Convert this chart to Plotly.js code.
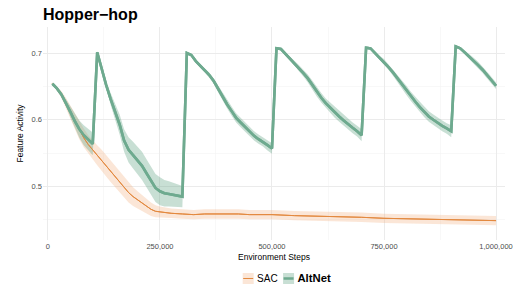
<!DOCTYPE html>
<html>
<head>
<meta charset="utf-8">
<script src="https://cdn.plot.ly/plotly-3.0.1.min.js"></script>
<style>html,body{margin:0;padding:0;background:#fff;}#chart{width:524px;height:288px;}</style>
</head>
<body>
<div id="chart"></div>
<script>
// ---- data ----
var sacX = [10000,20000,30000,40000,50000,60000,70000,80000,90000,100000,110000,120000,130000,140000,150000,160000,170000,180000,190000,200000,210000,220000,230000,240000,250000,275000,300000,325000,350000,375000,400000,425000,450000,475000,500000,550000,600000,650000,700000,750000,800000,850000,900000,950000,1000000];
var sacMean = [0.654,0.647,0.638,0.625,0.611,0.597,0.584,0.573,0.563,0.555,0.547,0.539,0.531,0.523,0.515,0.507,0.499,0.491,0.485,0.480,0.475,0.470,0.466,0.463,0.462,0.460,0.459,0.458,0.459,0.459,0.460,0.459,0.458,0.458,0.458,0.4565,0.456,0.4545,0.454,0.4525,0.452,0.451,0.4505,0.450,0.449];
var sacSpread = [0.002,0.003,0.005,0.008,0.010,0.012,0.013,0.014,0.014,0.014,0.015,0.016,0.016,0.016,0.016,0.016,0.016,0.015,0.014,0.013,0.012,0.011,0.010,0.009,0.008,0.007,0.007,0.007,0.007,0.007,0.007,0.007,0.007,0.007,0.007,0.007,0.007,0.007,0.007,0.007,0.007,0.007,0.007,0.007,0.007];

var altX = [10000,20000,30000,40000,50000,60000,70000,80000,90000,100000,
  110000,120000,130000,140000,150000,160000,170000,180000,190000,200000,210000,220000,230000,240000,250000,260000,270000,280000,290000,300000,
  310000,320000,330000,340000,350000,360000,370000,380000,390000,400000,410000,420000,430000,440000,450000,460000,470000,480000,490000,500000,
  510000,520000,530000,540000,550000,560000,570000,580000,590000,600000,610000,620000,630000,640000,650000,660000,670000,680000,690000,700000,
  710000,720000,730000,740000,750000,760000,770000,780000,790000,800000,810000,820000,830000,840000,850000,860000,870000,880000,890000,900000,
  910000,920000,930000,940000,950000,960000,970000,980000,990000,1000000];
var altMean = [0.654,0.647,0.638,0.626,0.612,0.598,0.586,0.577,0.570,0.564,
  0.701,0.676,0.652,0.631,0.612,0.593,0.569,0.555,0.547,0.539,0.531,0.520,0.508,0.498,0.493,0.490,0.489,0.488,0.486,0.485,
  0.700,0.697,0.688,0.681,0.675,0.667,0.658,0.646,0.634,0.623,0.613,0.603,0.596,0.589,0.582,0.576,0.571,0.567,0.562,0.557,
  0.707,0.706,0.699,0.692,0.685,0.678,0.670,0.662,0.652,0.642,0.633,0.625,0.618,0.611,0.605,0.599,0.593,0.588,0.583,0.577,
  0.708,0.707,0.700,0.693,0.687,0.679,0.671,0.662,0.653,0.644,0.635,0.627,0.619,0.612,0.605,0.600,0.595,0.591,0.587,0.583,
  0.710,0.707,0.701,0.695,0.689,0.682,0.675,0.667,0.659,0.651];
var altSpread = [0.002,0.002,0.003,0.005,0.008,0.011,0.013,0.015,0.016,0.017,
  0.002,0.004,0.006,0.009,0.012,0.015,0.017,0.019,0.020,0.021,0.021,0.021,0.021,0.021,0.021,0.020,0.019,0.018,0.017,0.016,
  0.002,0.002,0.002,0.003,0.003,0.004,0.004,0.005,0.006,0.006,0.007,0.007,0.007,0.007,0.007,0.007,0.007,0.007,0.008,0.008,
  0.002,0.002,0.002,0.003,0.003,0.004,0.005,0.006,0.007,0.007,0.007,0.007,0.008,0.008,0.008,0.008,0.008,0.008,0.008,0.009,
  0.002,0.002,0.003,0.003,0.004,0.004,0.005,0.006,0.006,0.007,0.007,0.007,0.008,0.008,0.008,0.008,0.008,0.008,0.008,0.009,
  0.002,0.002,0.003,0.004,0.004,0.005,0.005,0.005,0.005,0.005];

var xTickVals = [0,250000,500000,750000,1000000];
var xTickText = ['0','250,000','500,000','750,000','1,000,000'];
var seriesNames = ['SAC','<span style="font-size:11.3px"><b>AltNet</b></span>'];

function add(a,b,s){return a.map(function(v,i){return v + s*b[i];});}

var sacCol = '#E3893F', sacFill = 'rgba(242,180,135,0.33)';
var altCol = '#6EAA8F', altFill = 'rgba(110,170,143,0.38)';

function bandTraces(x, mean, spread, name, col, fill, lw, grp){
  return [
    {x:x, y:add(mean,spread,1), mode:'lines', line:{width:0,color:col}, hoverinfo:'skip', showlegend:false, legendgroup:grp, type:'scatter'},
    {x:x, y:mean, mode:'lines', line:{width:lw,color:col}, fill:'tonexty', fillcolor:fill, name:name, legendgroup:grp, type:'scatter'},
    {x:x, y:add(mean,spread,-1), mode:'lines', line:{width:0,color:col}, fill:'tonexty', fillcolor:fill, hoverinfo:'skip', showlegend:false, legendgroup:grp, type:'scatter'}
  ];
}

var data = [].concat(
  bandTraces(sacX, sacMean, sacSpread, seriesNames[0], sacCol, sacFill, 1, 'sac'),
  bandTraces(altX, altMean, altSpread, seriesNames[1], altCol, altFill, 2.6, 'alt')
);
// redraw lines on top of fills
data.push({x:sacX, y:sacMean, mode:'lines', line:{width:1,color:sacCol}, showlegend:false, hoverinfo:'skip', type:'scatter'});
data.push({x:altX, y:altMean, mode:'lines', line:{width:2.6,color:altCol}, showlegend:false, hoverinfo:'skip', type:'scatter'});

var layout = {
  width:524, height:288,
  margin:{l:43, r:19, t:27, b:48},
  paper_bgcolor:'#fff', plot_bgcolor:'#fff',
  font:{family:'"Liberation Sans", Arial, sans-serif', color:'#000'},
  title:{text:'<b>Hopper\u2212hop</b>', x:0, xref:'paper', xanchor:'left', y:0.95, yanchor:'middle', font:{size:16, color:'#000'}},
  xaxis:{
    range:[-11000,1020000], tickvals:xTickVals, ticktext:xTickText,
    showgrid:true, gridcolor:'#EBEBEB', gridwidth:1, zeroline:false, showline:false,
    ticks:'', tickfont:{size:7.5, color:'#4D4D4D'},
    minor:{tickvals:[125000,375000,625000,875000], showgrid:true, gridcolor:'#F4F4F4', gridwidth:0.6},
    title:{text:'Environment Steps', font:{size:8.5, color:'#000'}, standoff:4}
  },
  yaxis:{
    range:[0.42,0.739], tickvals:[0.5,0.6,0.7], ticktext:['0.5','0.6','0.7'],
    showgrid:true, gridcolor:'#EBEBEB', gridwidth:1, zeroline:false, showline:false,
    ticks:'', tickfont:{size:7.5, color:'#4D4D4D'},
    minor:{tickvals:[0.45,0.55,0.65], showgrid:true, gridcolor:'#F4F4F4', gridwidth:0.6},
    title:{text:'Feature Activity', font:{size:8.5, color:'#000'}, standoff:6}
  },
  legend:{orientation:'h', x:0.5, xanchor:'center', yref:'container', y:0.033, yanchor:'middle', font:{size:10, color:'#000'}, itemwidth:30, tracegroupgap:0, bgcolor:'rgba(0,0,0,0)'},
  showlegend:true
};

// ggplot-style legend keys: filled square with the line across its middle
function restyleLegend(gd){
  try {
    var items = gd.querySelectorAll('.legend .traces');
    var keyW = 11, keyGap = 3.4, itemGap = 5.4, firstKeyX = 242.7;
    var legendG = gd.querySelector('.legend');
    var lt = legendG.getAttribute('transform') || '';
    var m = /translate\(([-\d.]+)[ ,]*([-\d.]+)?\)/.exec(lt);
    var legX = m ? parseFloat(m[1]) : 0;
    var cur = firstKeyX - legX;
    items.forEach(function(it){
      var f = it.querySelector('.legendfill path');
      if (f) f.setAttribute('d', 'M0,-5.5h' + keyW + 'v11h-' + keyW + 'z');
      var l = it.querySelector('.legendlines path');
      if (l) l.setAttribute('d', 'M0.5,0h' + (keyW - 1));
      var t = it.querySelector('text.legendtext');
      var tw = 0;
      if (t) { t.setAttribute('x', keyW + keyGap); tw = t.getComputedTextLength(); }
      var tr = it.getAttribute('transform') || '';
      var mm = /translate\(([-\d.]+)[ ,]*([-\d.]+)?\)/.exec(tr);
      var y = mm && mm[2] ? parseFloat(mm[2]) : 0;
      var parent = it.parentNode;
      var pt = parent.getAttribute('transform') || '';
      var pm = /translate\(([-\d.]+)[ ,]*([-\d.]+)?\)/.exec(pt);
      var px = pm ? parseFloat(pm[1]) : 0;
      var sb = gd.querySelector('.legend .scrollbox');
      var st = sb ? (sb.getAttribute('transform') || '') : '';
      var sm = /translate\(([-\d.]+)[ ,]*([-\d.]+)?\)/.exec(st);
      var sx = sm ? parseFloat(sm[1]) : 0;
      it.setAttribute('transform', 'translate(' + (cur - px - sx) + ',' + y + ')');
      cur += keyW + keyGap + tw + itemGap;
    });
  } catch (e) {}
}

Plotly.newPlot('chart', data, layout, {displayModeBar:false, staticPlot:true}).then(restyleLegend);
</script>
</body>
</html>
